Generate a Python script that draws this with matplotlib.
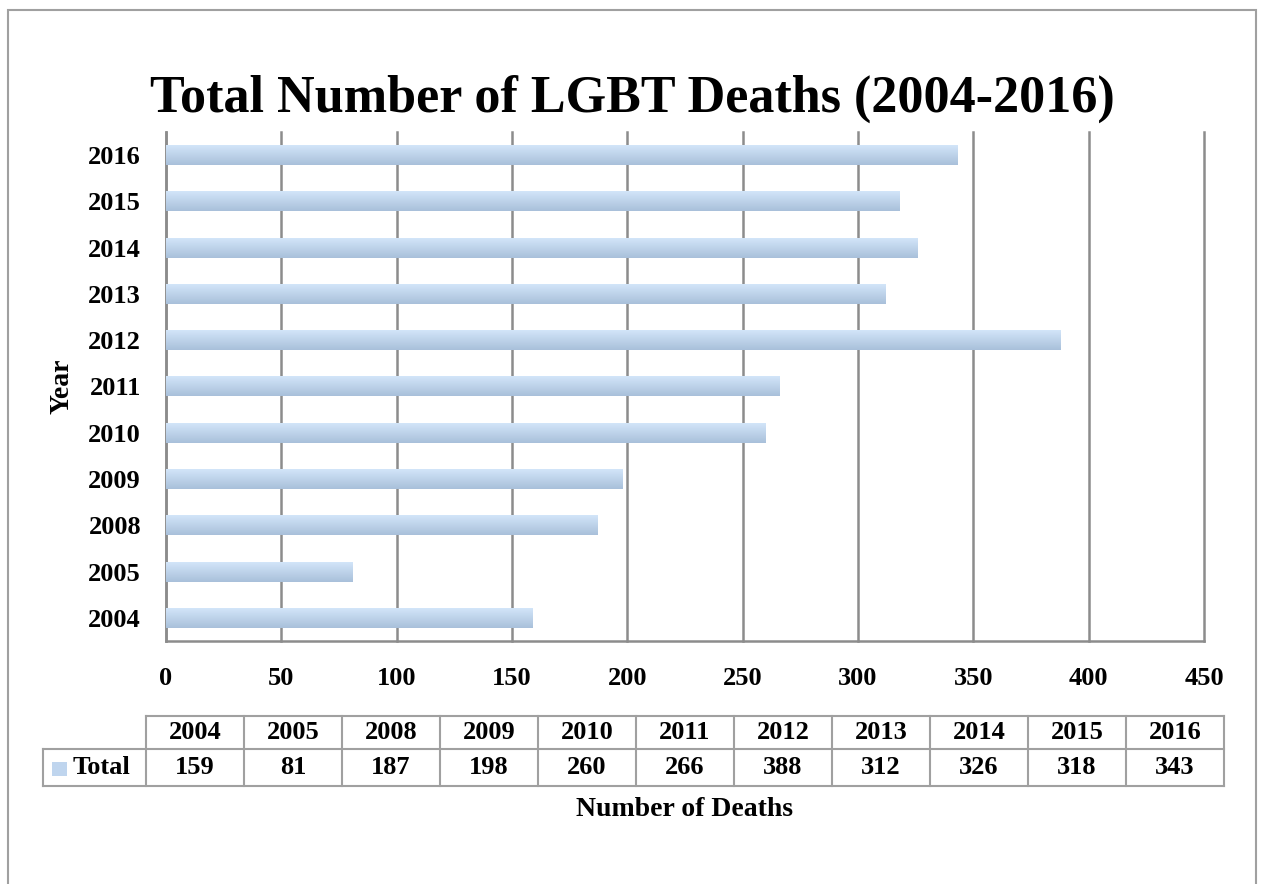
import numpy as np
import matplotlib
matplotlib.use("Agg")
import matplotlib.pyplot as plt
from matplotlib.patches import Rectangle
from matplotlib.lines import Line2D

years = ["2004", "2005", "2008", "2009", "2010", "2011", "2012", "2013", "2014", "2015", "2016"]
totals = [159, 81, 187, 198, 260, 266, 388, 312, 326, 318, 343]
xticks = [0, 50, 100, 150, 200, 250, 300, 350, 400, 450]

plt.rcParams['font.family'] = ['Liberation Serif', 'DejaVu Serif']
plt.rcParams['font.weight'] = 'bold'

W, H = 1264, 884
fig = plt.figure(figsize=(W / 100, H / 100), dpi=100)

# outer chart frame
fig.add_artist(Rectangle((8 / W, -0.01), (1256 - 8) / W, 1 - 10 / H + 0.01,
                         transform=fig.transFigure, fill=False,
                         edgecolor='#a0a0a0', linewidth=1.5))

ax = fig.add_axes([166 / W, 1 - 641 / H, (1204 - 166) / W, (641 - 132) / H])

y = np.arange(len(years))
bars = ax.barh(y, totals, height=0.43, color='#bfd5ee', zorder=3)

# vertical gradient on each bar
grad = np.linspace(0, 1, 64).reshape(-1, 1)
cmap = matplotlib.colors.LinearSegmentedColormap.from_list('g', ['#d2e5f9', '#a9c0da'])
for b in bars:
    x0, y0 = b.get_x(), b.get_y()
    ax.imshow(grad, extent=[x0, x0 + b.get_width(), y0, y0 + b.get_height()],
              aspect='auto', cmap=cmap, zorder=4, origin='upper')

ax.set_xlim(0, 450)
ax.set_ylim(-0.5, len(years) - 0.5)
ax.set_xticks(xticks)
ax.set_yticks(y)
ax.set_yticklabels(years)
ax.tick_params(axis='both', length=0, labelsize=19)
ax.tick_params(axis='y', pad=18)
ax.tick_params(axis='x', pad=19)
ax.grid(axis='x', color='#8c8c8c', linewidth=1.8, zorder=0)
for gl in ax.get_xgridlines():
    gl.set_clip_on(False)
for s in ['top', 'right']:
    ax.spines[s].set_visible(False)
for s in ['left', 'bottom']:
    ax.spines[s].set_color('#8c8c8c')
    ax.spines[s].set_linewidth(1.8)

fig.text(0.5, 1 - 99 / H, 'Total Number of LGBT Deaths (2004-2016)',
         ha='center', va='center', fontsize=37.5, fontweight='bold')
fig.text(62 / W, 1 - 386 / H, 'Year', rotation=90, ha='center', va='center',
         fontsize=20, fontweight='bold')
fig.text(685 / W, 1 - 810 / H, 'Number of Deaths', ha='center', va='center',
         fontsize=20, fontweight='bold')

# data table below the axis
tl, cw = 146, 98.0
r0, r1, r2 = 716, 749, 786
lab_l = 43
lc = '#a0a0a0'


def hline(x0, x1, yy):
    fig.add_artist(Line2D([x0 / W, x1 / W], [1 - yy / H, 1 - yy / H], color=lc, lw=1.5))


def vline(xx, y0, y1):
    fig.add_artist(Line2D([xx / W, xx / W], [1 - y0 / H, 1 - y1 / H], color=lc, lw=1.5))


tr = tl + cw * len(years)
hline(tl, tr, r0)
hline(lab_l, tr, r1)
hline(lab_l, tr, r2)
vline(lab_l, r1, r2)
for i in range(len(years) + 1):
    vline(tl + cw * i, r0, r2)
for i, (yr, v) in enumerate(zip(years, totals)):
    cx = (tl + cw * (i + 0.5)) / W
    fig.text(cx, 1 - (r0 + r1) / 2 / H, yr, ha='center', va='center', fontsize=19, fontweight='bold')
    fig.text(cx, 1 - (r1 + r2) / 2 / H, str(v), ha='center', va='center', fontsize=19, fontweight='bold')

fig.add_artist(Rectangle((52 / W, 1 - 776 / H), 15 / W, 14 / H, transform=fig.transFigure,
                         facecolor='#bfd5ee', edgecolor='none'))
fig.text(73 / W, 1 - (r1 + r2) / 2 / H, 'Total', ha='left', va='center', fontsize=19, fontweight='bold')

fig.savefig('out.png', dpi=100)
